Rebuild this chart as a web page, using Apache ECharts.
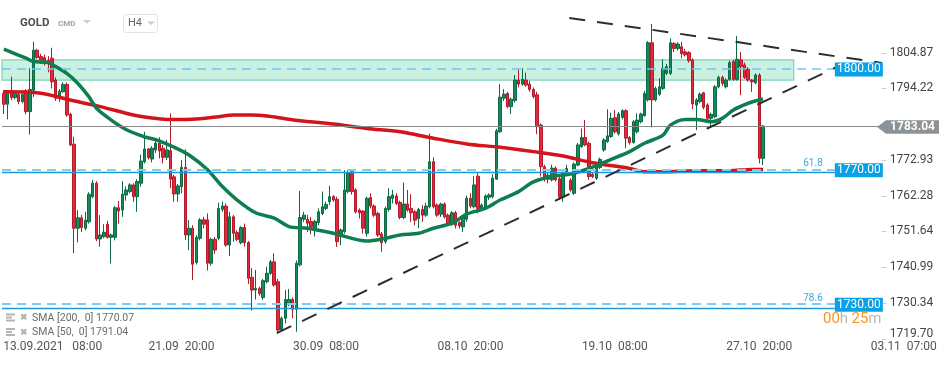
<!DOCTYPE html>
<html><head><meta charset="utf-8">
<script src="https://cdn.jsdelivr.net/npm/echarts@6/dist/echarts.min.js"></script>
<style>html,body{margin:0;padding:0;background:#fff}#c{width:950px;height:365px}</style>
</head><body><div id="c"></div>
<script>
// ---- data (H4 candles, index 0 = first visible candle) ----
const opens = [1792.7,1789.5,1793.4,1791.5,1792.4,1790.3,1793.4,1787.3,1793.7,1805.6,
1803.7,1803.4,1802.5,1803.2,1796.7,1791.8,1793.2,1795.4,1786.5,1777.6,
1752.6,1755.7,1752.6,1754.5,1762.0,1766.0,1749.4,1750.1,1753.8,1749.9,
1749.9,1758.7,1758.0,1762.5,1763.5,1765.5,1762.0,1766.0,1772.4,1776.2,
1773.2,1775.9,1777.9,1776.4,1773.7,1775.7,1767.9,1762.8,1765.0,1770.7,
1750.6,1752.6,1742.4,1749.6,1755.1,1755.1,1742.2,1749.3,1749.6,1758.2,
1759.2,1747.6,1756.0,1751.3,1748.3,1752.8,1748.3,1738.0,1734.2,1734.7,
1732.0,1736.7,1739.2,1742.6,1736.7,1722.3,1725.8,1730.4,1731.4,1728.5,
1741.7,1755.3,1755.3,1754.6,1752.1,1754.3,1757.0,1758.5,1760.5,1762.0,
1761.2,1750.1,1751.6,1763.5,1769.4,1764.0,1758.0,1757.7,1751.1,1761.7,
1759.2,1757.0,1750.9,1748.6,1758.2,1761.5,1762.2,1760.3,1755.8,1759.8,
1758.5,1757.5,1755.5,1758.2,1756.5,1759.0,1772.4,1759.5,1756.8,1759.8,
1756.5,1753.8,1757.2,1754.3,1753.0,1755.3,1761.5,1759.0,1768.1,1758.5,
1758.8,1761.8,1762.0,1767.2,1781.3,1791.3,1792.7,1788.8,1790.6,1796.7,
1795.5,1796.7,1795.5,1793.9,1792.3,1783.3,1770.9,1767.2,1767.0,1770.5,
1767.3,1761.8,1768.5,1766.9,1763.0,1771.4,1776.9,1779.6,1777.9,1768.6,
1767.5,1770.7,1775.9,1778.4,1779.9,1785.5,1780.7,1785.6,1787.6,1779.6,
1778.1,1781.3,1784.3,1786.1,1790.8,1807.8,1790.8,1792.5,1794.2,1798.7,
1798.7,1807.6,1806.1,1806.6,1805.1,1804.9,1802.7,1789.3,1790.3,1792.9,
1789.3,1785.3,1785.8,1794.7,1797.5,1794.7,1796.9,1802.2,1796.9,1802.7,
1801.2,1799.9,1796.7,1795.9,1798.2,1773.4];
const closes = [1789.5,1793.4,1791.5,1793.2,1790.3,1792.4,1787.3,1793.9,1805.6,1803.4,
1802.7,1802.4,1801.6,1796.2,1791.3,1793.4,1795.4,1786.3,1777.4,1752.6,
1755.7,1752.8,1755.0,1762.7,1766.0,1749.4,1750.6,1751.4,1749.9,1750.6,
1758.7,1757.7,1762.7,1764.0,1765.5,1762.0,1766.5,1772.6,1776.2,1773.6,
1776.4,1777.9,1775.6,1773.7,1775.9,1767.2,1762.8,1765.2,1770.7,1750.6,
1752.6,1741.9,1749.9,1755.1,1753.8,1742.2,1749.3,1746.1,1758.5,1759.2,
1747.6,1756.0,1751.1,1749.3,1752.8,1748.3,1737.7,1734.2,1734.7,1733.2,
1737.0,1739.2,1742.6,1735.7,1722.3,1725.8,1731.4,1731.4,1728.5,1742.2,
1755.8,1756.5,1754.1,1753.1,1754.6,1757.5,1759.0,1759.7,1762.0,1761.0,
1748.6,1752.1,1764.0,1769.1,1763.5,1757.5,1757.2,1752.6,1761.5,1759.2,
1756.5,1750.6,1748.3,1758.5,1762.0,1762.5,1760.0,1755.8,1759.8,1758.0,
1757.2,1755.0,1758.2,1756.5,1759.2,1772.4,1759.0,1756.5,1759.8,1756.0,
1753.8,1757.2,1753.5,1753.3,1756.0,1761.5,1759.2,1765.5,1758.5,1759.5,
1762.2,1762.5,1767.5,1781.6,1791.6,1792.5,1788.8,1791.0,1796.7,1795.5,
1796.9,1795.2,1793.9,1791.8,1782.8,1770.9,1767.5,1768.4,1770.5,1767.0,
1761.8,1768.9,1770.4,1764.0,1771.7,1777.4,1779.6,1777.4,1768.0,1768.0,
1770.9,1773.1,1778.9,1780.1,1785.3,1781.3,1786.6,1787.6,1779.4,1778.1,
1784.3,1784.8,1786.6,1792.7,1807.8,1790.8,1794.2,1794.7,1800.2,1800.7,
1807.8,1806.1,1807.4,1804.6,1804.2,1802.5,1789.6,1790.8,1792.5,1788.6,
1785.3,1786.5,1794.7,1797.5,1795.7,1796.7,1801.9,1796.9,1802.9,1800.7,
1797.5,1796.7,1796.2,1798.2,1773.4,1783.04];
const lows = [1786.6,1785.0,1790.8,1791.0,1789.5,1789.8,1786.5,1780.5,1791.7,1803.0,
1801.5,1801.0,1799.0,1794.2,1790.5,1790.2,1793.0,1785.8,1777.0,1745.1,
1748.4,1751.5,1752.0,1754.0,1761.5,1748.8,1747.1,1749.6,1749.5,1742.1,
1749.0,1754.0,1756.0,1760.8,1763.0,1760.5,1757.5,1765.0,1771.9,1773.0,
1772.2,1775.0,1773.4,1771.9,1772.9,1764.5,1760.5,1760.5,1763.0,1749.1,
1746.1,1737.2,1741.8,1749.0,1752.6,1740.0,1741.5,1745.0,1749.0,1757.5,
1747.1,1744.3,1748.6,1748.8,1747.8,1747.1,1736.0,1728.1,1731.4,1732.5,
1731.3,1736.2,1738.7,1735.2,1721.6,1722.0,1724.3,1729.4,1725.8,1721.8,
1741.2,1754.5,1751.5,1750.8,1750.1,1753.5,1756.5,1758.0,1759.5,1760.5,
1747.0,1747.6,1751.0,1763.0,1762.6,1757.0,1755.5,1751.0,1750.1,1758.5,
1756.0,1750.0,1745.6,1748.0,1757.5,1760.0,1759.5,1755.3,1755.3,1757.5,
1754.5,1753.5,1752.6,1754.5,1756.0,1758.5,1758.5,1756.0,1756.0,1755.5,
1753.3,1753.3,1752.5,1752.5,1751.5,1754.5,1758.5,1758.5,1757.0,1758.0,
1758.3,1761.0,1761.5,1767.0,1781.0,1790.5,1788.3,1786.6,1790.0,1794.5,
1795.0,1794.7,1793.2,1791.2,1780.6,1768.0,1766.5,1766.0,1766.5,1766.5,
1761.0,1760.5,1768.0,1763.5,1762.5,1771.0,1776.5,1777.0,1767.0,1767.5,
1767.0,1770.2,1775.4,1778.0,1779.5,1780.8,1780.2,1785.0,1776.4,1777.5,
1777.8,1780.8,1783.8,1785.8,1790.3,1782.6,1790.3,1792.0,1793.7,1798.2,
1798.2,1805.0,1805.5,1803.2,1803.7,1801.9,1788.0,1781.8,1789.8,1788.0,
1784.8,1782.9,1785.3,1794.2,1795.0,1794.2,1796.5,1796.5,1796.5,1792.2,
1797.0,1796.2,1793.2,1795.5,1771.9,1771.4];
const highs = [1793.7,1793.7,1797.7,1793.5,1793.0,1793.0,1794.0,1800.2,1808.1,1806.0,
1804.5,1804.3,1803.8,1806.3,1797.5,1794.0,1796.0,1796.0,1787.0,1779.8,
1758.0,1756.6,1757.5,1763.3,1767.0,1766.6,1756.5,1753.8,1754.8,1751.0,
1759.2,1760.7,1766.6,1765.0,1766.0,1766.0,1767.2,1774.5,1781.3,1776.5,
1777.0,1779.0,1779.7,1777.4,1778.9,1786.8,1768.5,1765.8,1772.9,1776.1,
1755.0,1753.5,1750.5,1755.6,1756.0,1757.0,1749.8,1750.0,1760.2,1760.5,
1760.0,1757.5,1756.5,1752.0,1753.2,1754.0,1748.8,1740.7,1740.2,1735.2,
1737.5,1741.2,1743.2,1745.1,1737.5,1726.3,1734.2,1734.5,1732.0,1743.0,
1763.7,1757.5,1756.6,1756.0,1755.1,1758.5,1763.5,1760.5,1765.2,1762.5,
1762.0,1752.5,1769.9,1769.9,1769.9,1764.5,1758.5,1758.0,1762.0,1763.0,
1759.7,1757.5,1751.5,1759.0,1764.5,1764.0,1763.0,1760.8,1766.2,1764.0,
1762.7,1758.0,1758.7,1759.5,1760.2,1780.8,1773.7,1760.0,1760.2,1760.3,
1757.0,1757.7,1757.8,1754.7,1756.5,1762.3,1763.0,1768.1,1769.0,1760.0,
1762.7,1763.0,1768.7,1782.2,1795.5,1794.0,1793.2,1791.5,1798.2,1799.9,
1800.2,1798.9,1796.5,1794.5,1793.2,1783.8,1771.5,1769.0,1771.5,1771.0,
1768.0,1769.5,1771.5,1767.5,1772.2,1778.0,1782.3,1784.8,1778.4,1769.0,
1771.5,1773.6,1779.4,1788.0,1787.0,1787.8,1787.2,1788.0,1788.0,1780.0,
1784.8,1786.8,1787.0,1793.5,1808.3,1813.4,1794.8,1797.2,1802.9,1801.5,
1809.1,1808.0,1808.0,1808.1,1806.0,1805.3,1803.2,1791.3,1793.0,1793.2,
1789.8,1787.0,1795.2,1798.0,1798.0,1797.2,1802.5,1802.7,1809.8,1805.1,
1801.9,1800.5,1797.0,1798.7,1798.7,1783.3];

// moving averages: [candle index, value]
const sma200 = [[0,1793.2],[10,1792.8],[17,1791.0],[26,1788.8],[35,1786.3],[40,1785.4],[44,1785.0],[49,1785.0],[53,1785.2],[58,1785.8],[62,1786.3],[67,1786.3],[71,1786.0],[76,1785.2],[80,1784.6],[89,1783.6],[98,1782.3],[107,1781.3],[116,1779.4],[125,1777.7],[134,1776.7],[143,1775.4],[151,1774.1],[159,1772.1],[169,1770.4],[173,1769.4],[178,1769.4],[187,1769.7],[196,1769.7],[202,1770.1],[205,1770.07]];
const sma50 = [[0,1805.9],[6,1803.2],[8,1802.2],[12,1801.9],[14,1800.7],[17,1798.7],[20,1795.7],[23,1791.7],[25,1788.3],[29,1784.8],[33,1782.0],[38,1779.8],[41,1779.0],[46,1776.7],[50,1774.4],[55,1770.0],[59,1765.0],[63,1761.0],[68,1757.2],[73,1755.6],[77,1753.1],[82,1752.6],[89,1751.1],[98,1748.8],[103,1749.6],[107,1750.6],[112,1751.1],[116,1752.6],[121,1754.1],[125,1756.8],[130,1758.5],[134,1761.0],[139,1763.5],[143,1766.4],[148,1768.0],[153,1768.7],[157,1770.0],[161,1771.7],[164,1773.1],[169,1775.4],[173,1777.9],[178,1780.3],[180,1783.3],[184,1785.0],[187,1785.0],[191,1784.3],[194,1785.3],[197,1787.8],[201,1789.8],[204,1790.8],[205,1791.04]];

const slotCount = 256;
const xTickLabels = [[9,'13.09.2021   08:00'],[48,'21.09  20:00'],[87,'30.09  08:00'],[126,'08.10  20:00'],[165,'19.10  08:00'],[204,'27.10  20:00'],[243,'03.11  07:00']];
const yTickValues = [1719.70,1730.34,1740.99,1751.64,1762.28,1772.93,1794.22,1804.87];
const lastPrice = 1783.04;
const levelLines = [1800, 1770, 1730];
const fibLines = [['61.8',1769.2],['78.6',1728.9]];
const zoneBand = [1796.7, 1802.7];
const zoneEndIndex = 213.3;
const levelEndIndex = 224.4;
const priceLineEndIndex = 236.3;
const trendUpper = [[152.7,1815.2],[237.1,1801.8]];
const trendLower = [[73.7,1721.4],[224.9,1800.6]];
const smaLegend = [['SMA [200,  0]',1770.07],['SMA [50,  0]',1791.04]];

// ---- chart ----
const candles = opens.map((o,i)=>[o, closes[i], lows[i], highs[i]]);
const cats = Array.from({length: slotCount}, (_,i)=>String(i));
const labelMap = {}; xTickLabels.forEach(([i,t])=>labelMap[i]=t);
const FONT = 'Roboto, "Noto Sans", sans-serif';

const chart = echarts.init(document.getElementById('c'), null, {renderer:'canvas'});
const hLine = (y, x0, x1, style) => [{coord:[x0,y], lineStyle:style}, {coord:[x1,y]}];

const option = {
  animation: false,
  backgroundColor: '#fff',
  grid: {left: 2, right: 0, top: 8.5, bottom: 20.5},
  xAxis: [
    {type:'category', data: cats, boundaryGap: true,
     axisLine:{show:false}, axisTick:{show:false}, splitLine:{show:false},
     axisLabel:{
       interval: (i)=> labelMap[i] !== undefined,
       margin: -4, color:'#555', fontSize: 12, fontFamily: FONT,
       formatter: (v) => {
         const t = labelMap[Number(v)] || '';
         return Number(v) === xTickLabels[0][0] ? '{f|' + t + '}' : t;
       },
       rich: {f:{padding:[0,0,0,31], color:'#555', fontSize:12, fontFamily: FONT}}
     }},
    {type:'value', min:-0.5, max: slotCount-0.5, show:false}
  ],
  yAxis: {
    type:'value', position:'right', offset: -68.3, min: 1718, max: 1818,
    axisLine:{show:false},
    splitLine:{show:false},
    axisTick:{show:false},
    axisLabel:{customValues: yTickValues, margin: 8, color:'#444', fontSize: 12, fontFamily: FONT,
      formatter: v => (Math.abs(v-1719.70)<0.01 ? '{b|' + v.toFixed(2) + '}' : v.toFixed(2)),
      rich:{b:{padding:[0,0,9,0], color:'#444', fontSize:12, fontFamily: FONT}}}
  },
  series: [
    {name:'levels', type:'line', xAxisIndex:1, data:[], z:1, silent:true,
     markLine:{silent:true, symbol:['none','none'], label:{show:false}, animation:false,
       data:[
         hLine(lastPrice, -0.5, priceLineEndIndex, {color:'#8a8a8a', width:1.2, type:'solid'}),
         hLine(levelLines[0], -0.5, levelEndIndex, {color:'#6ec6ef', width:1.5, type:[9,6]}),
         hLine(levelLines[1], -0.5, levelEndIndex, {color:'#7fcdf1', width:2, type:[9,6]}),
         hLine(levelLines[2], -0.5, levelEndIndex, {color:'#7fcdf1', width:2, type:[9,6]}),
         hLine(fibLines[0][1], -0.5, levelEndIndex, {color:'#1f9ad8', width:1.3, type:'solid'}),
         hLine(fibLines[1][1], -0.5, levelEndIndex, {color:'#1f9ad8', width:1.3, type:'solid'})
       ]}},
    {name:'GOLD', type:'candlestick', xAxisIndex:0, yAxisIndex:0, data: candles, z:2,
     barWidth: 3,
     itemStyle:{color:'#17895a', color0:'#e3293b', borderColor:'#0b6a42', borderColor0:'#b51a2b', borderWidth:1}},
    {name:'SMA200', type:'line', xAxisIndex:1, data: sma200, smooth:0.3, showSymbol:false, z:3,
     lineStyle:{color:'#d3141c', width:3.5}},
    {name:'SMA50', type:'line', xAxisIndex:1, data: sma50, smooth:0.3, showSymbol:false, z:3,
     lineStyle:{color:'#0e7d4f', width:3.5}},
    {name:'zone', type:'line', xAxisIndex:1, data:[], z:4, silent:true,
     markArea:{silent:true, itemStyle:{color:'rgba(150,226,198,0.5)', borderColor:'rgba(110,208,168,0.9)', borderWidth:1.2},
       data:[[{coord:[-0.5, zoneBand[1]]},{coord:[zoneEndIndex, zoneBand[0]]}]]}},
    {name:'trendUpper', type:'line', xAxisIndex:1, data: trendUpper, showSymbol:false, z:5,
     lineStyle:{color:'#2b2f33', width:2, type:[16,12]}},
    {name:'trendLower', type:'line', xAxisIndex:1, data: trendLower, showSymbol:false, z:5,
     lineStyle:{color:'#2b2f33', width:2, type:[16,12]}}
  ]
};
chart.setOption(option);

const yPx = v => chart.convertToPixel({yAxisIndex:0}, v);
const xPx = v => chart.convertToPixel({xAxisIndex:1}, v);
const g = [];
// y-axis tick dashes
yTickValues.forEach(v=>{
  const y = Math.round(yPx(v)) + 0.5;
  g.push({type:'line', shape:{x1:881.5, y1:y, x2:886.5, y2:y}, style:{stroke:'#cfcfcf', lineWidth:1}});
});
// header
g.push({type:'text', left:20, top:17, style:{text:'GOLD', fill:'#4a4f55', font:'bold 11.5px '+FONT}});
g.push({type:'text', left:58, top:20, style:{text:'CMD', fill:'#98a4b0', font:'bold 8px '+FONT}});
g.push({type:'polygon', shape:{points:[[83,20],[91,20],[87,23.5]]}, style:{fill:'#c9cdd1'}});
g.push({type:'rect', shape:{x:123.5, y:14.5, width:34, height:18, r:3}, style:{fill:'#fff', stroke:'#e0e2e4', lineWidth:1}});
g.push({type:'text', left:128, top:18, style:{text:'H4', fill:'#666', font:'11px '+FONT}});
g.push({type:'polygon', shape:{points:[[147,21.5],[155,21.5],[151,25]]}, style:{fill:'#c9cdd1'}});
// level boxes
const boxX0 = xPx(levelEndIndex);
levelLines.forEach(v=>{
  const y = yPx(v);
  g.push({type:'rect', z:100, shape:{x:boxX0, y:y-6.5, width:48, height:14}, style:{fill:'#0aa2e6'}});
  g.push({type:'text', z:101, x:boxX0+24, y:y+0.5, style:{text:v.toFixed(2), fill:'#fff', font:'12px '+FONT, align:'center', verticalAlign:'middle'}});
});
fibLines.forEach(([t,v])=>{
  g.push({type:'text', z:101, x:813, y:yPx(v)-4, style:{text:t, fill:'#3aa8e0', font:'10px '+FONT, align:'center', verticalAlign:'bottom'}});
});
// current price tag
const py = yPx(lastPrice) + 1;
g.push({type:'polygon', z:100, shape:{points:[[877,py],[886,py-6.7],[939,py-6.7],[939,py+6.7],[886,py+6.7]]}, style:{fill:'#8c9296'}});
g.push({type:'text', z:101, x:912.5, y:py+0.5, style:{text:lastPrice.toFixed(2), fill:'#fff', font:'bold 12px '+FONT, align:'center', verticalAlign:'middle'}});
// countdown
g.push({type:'text', z:101, left:823, top:312, style:{text:'{o|00}{g|h} {o|25}{g|m}', rich:{o:{fill:'#f7941d', font:'15px '+FONT}, g:{fill:'#b8b8b8', font:'15px '+FONT}}}});
// legend
smaLegend.forEach(([name,val],k)=>{
  const cy = 318 + k*14.5;
  g.push({type:'rect', shape:{x:6, y:cy-4.5, width:9, height:2}, style:{fill:'#b3b3b3'}});
  g.push({type:'rect', shape:{x:6, y:cy-1.5, width:6, height:2}, style:{fill:'#b3b3b3'}});
  g.push({type:'rect', shape:{x:6, y:cy+1.5, width:9, height:2}, style:{fill:'#b3b3b3'}});
  g.push({type:'text', x:20, y:cy, style:{text:'✖', fill:'#b3b3b3', font:'bold 9px '+FONT, verticalAlign:'middle'}});
  g.push({type:'text', x:32, y:cy, style:{text:name + ' ' + val.toFixed(2), fill:'#6b6b6b', font:'10.5px '+FONT, verticalAlign:'middle'}});
});
chart.setOption({graphic: g});
</script>
</body></html>
